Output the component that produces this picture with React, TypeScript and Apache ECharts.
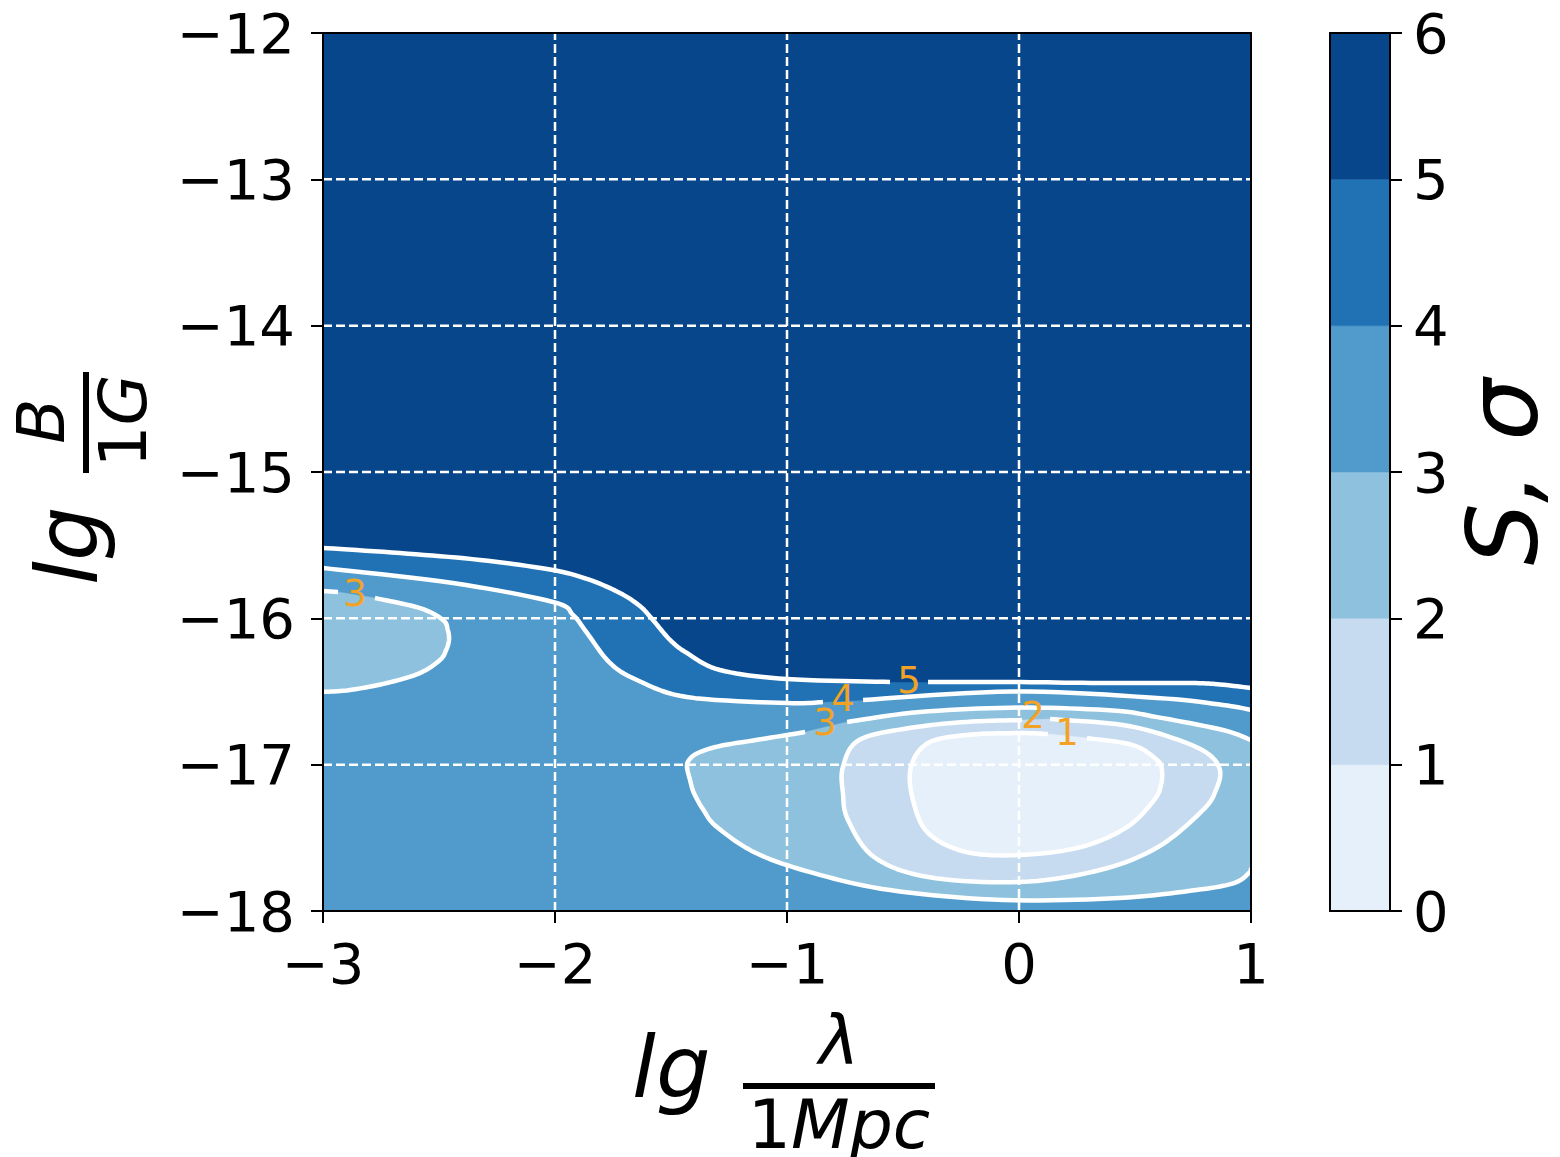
import React, { useEffect, useRef } from "react";
import * as echarts from "echarts";

type Pt = [number, number];

// axis ranges
const xMin = -3;
const xMax = 1;
const yMin = -18;
const yMax = -12;
const gridLinesX = [-2, -1, 0];
const gridLinesY = [-17, -16, -15, -14, -13];

// colour bar levels and band colours (Blues)
const colorbarLevels = [0, 1, 2, 3, 4, 5, 6];
const bandColors = ["#e6f0fa", "#c6dbef", "#8dc1dd", "#509bcb", "#2171b5", "#08468c"];

// contour lines (segments split at inline labels)
const level5Line: Pt[][] = [
  [[-3, -15.519], [-2.668, -15.554], [-2.323, -15.601], [-2.009, -15.67], [-1.849, -15.738], [-1.72, -15.827], [-1.634, -15.916], [-1.578, -16.011], [-1.504, -16.148], [-1.431, -16.237], [-1.289, -16.353], [-1.0, -16.415], [-0.556, -16.435]],
  [[-0.392, -16.435], [-0.026, -16.435], [0.349, -16.442], [0.737, -16.442], [0.866, -16.452], [1.0, -16.476]],
];
const level4Line: Pt[][] = [
  [[-3, -15.656], [-2.44, -15.759], [-2.009, -15.888], [-1.922, -15.977], [-1.862, -16.1], [-1.763, -16.305], [-1.647, -16.421], [-1.431, -16.538], [-1.0, -16.579], [-0.845, -16.572]],
  [[-0.672, -16.558], [-0.026, -16.5], [0.595, -16.544], [0.879, -16.592], [1.0, -16.626]],
];
const level3Left: Pt[][] = [
  [[-3, -15.813], [-2.935, -15.82]],
  [[-2.776, -15.861], [-2.582, -15.93], [-2.483, -16.011], [-2.462, -16.08], [-2.457, -16.148], [-2.47, -16.22], [-2.496, -16.285], [-2.582, -16.374], [-2.724, -16.442], [-2.884, -16.49], [-3, -16.503]],
];
const level3Right: Pt[][] = [
  [[1.0, -16.832], [0.879, -16.763], [0.595, -16.675], [0.405, -16.63], [0.0, -16.61], [-0.427, -16.64], [-0.741, -16.708]],
  [[-0.922, -16.777], [-1.134, -16.832], [-1.289, -16.872], [-1.384, -16.92], [-1.422, -16.968], [-1.431, -17.016], [-1.418, -17.105], [-1.401, -17.194], [-1.36, -17.31], [-1.302, -17.426], [-1.134, -17.604], [-0.888, -17.74], [-0.556, -17.857], [-0.065, -17.925], [0.431, -17.911], [0.763, -17.857], [0.927, -17.809], [0.991, -17.74], [1.0, -17.706]],
];
const level2Ring: Pt[][] = [
  [[0.134, -16.688], [0.448, -16.729], [0.664, -16.818], [0.81, -16.92], [0.866, -17.036], [0.849, -17.173], [0.793, -17.31], [0.599, -17.563], [0.349, -17.72], [0.004, -17.802], [-0.392, -17.768], [-0.625, -17.631], [-0.737, -17.378], [-0.759, -17.194], [-0.759, -17.016], [-0.69, -16.832], [-0.474, -16.75], [-0.228, -16.708], [0.013, -16.695]],
];
const level1Ring: Pt[][] = [
  [[0.293, -16.818], [0.491, -16.866], [0.595, -16.968], [0.616, -17.036], [0.612, -17.139], [0.582, -17.242], [0.466, -17.426], [0.267, -17.563], [0.004, -17.617], [-0.228, -17.597], [-0.392, -17.467], [-0.457, -17.242], [-0.466, -17.016], [-0.392, -16.852], [-0.228, -16.797], [0.004, -16.784], [0.125, -16.791]],
];

// inline contour labels
const labelText = ["5", "4", "3", "2", "1", "3"];
const labelX = [-0.474, -0.759, -0.836, 0.06, 0.207, -2.862];
const labelY = [-16.422, -16.545, -16.715, -16.661, -16.777, -15.827];

const FONT = '"DejaVu Sans", sans-serif';
const minus = (v: number) => String(v).replace("-", "\u2212");

// Catmull-Rom smoothing of an already projected (pixel) polyline, for drawing only
const smoothPx = (pts: number[][], n = 10): number[][] => {
  if (pts.length < 3) return pts;
  const out: number[][] = [];
  for (let i = 0; i < pts.length - 1; i++) {
    const p0 = pts[i - 1] || pts[i];
    const p1 = pts[i];
    const p2 = pts[i + 1];
    const p3 = pts[i + 2] || pts[i + 1];
    for (let k = 0; k < n; k++) {
      const s = k / n;
      const s2 = s * s;
      const s3 = s2 * s;
      const f = (a: number, b: number, c: number, d: number) =>
        0.5 * (2 * b + (-a + c) * s + (2 * a - 5 * b + 4 * c - d) * s2 + (-a + 3 * b - 3 * c + d) * s3);
      out.push([f(p0[0], p1[0], p2[0], p3[0]), f(p0[1], p1[1], p2[1], p3[1])]);
    }
  }
  out.push(pts[pts.length - 1]);
  return out;
};

export default function App() {
  const ref = useRef<HTMLDivElement>(null);
  useEffect(() => {
    const chart = echarts.init(ref.current!, null, { renderer: "svg" });
    const lines = [level5Line, level4Line, level3Left, level3Right, level2Ring, level1Ring];

    const lineAxis = (gridIndex: number, position: string, extra: any = {}) => ({
      gridIndex,
      type: "value",
      position,
      z: 10,
      axisLine: { show: true, onZero: false, lineStyle: { color: "#000", width: 2 } },
      axisTick: { show: false },
      axisLabel: { show: false },
      splitLine: { show: false },
      ...extra,
    });
    const tickLabel = (margin: number) => ({
      show: true,
      fontSize: 56,
      color: "#000",
      fontFamily: FONT,
      margin,
      formatter: (v: number) => minus(v),
    });
    const tickStyle = { show: true, inside: false, length: 12, lineStyle: { color: "#000", width: 2 } };

    chart.setOption({
      animation: false,
      backgroundColor: "#fff",
      grid: [
        { left: 323, top: 33, width: 928, height: 878, outerBoundsMode: "none" },
        { left: 1330, top: 33, width: 60, height: 878, outerBoundsMode: "none" },
      ],
      xAxis: [
        lineAxis(0, "bottom", { min: xMin, max: xMax, interval: 1, axisTick: tickStyle, axisLabel: tickLabel(24) }),
        lineAxis(0, "top", { min: xMin, max: xMax }),
        lineAxis(1, "bottom", { min: 0, max: 1 }),
        lineAxis(1, "top", { min: 0, max: 1 }),
      ],
      yAxis: [
        lineAxis(0, "left", { min: yMin, max: yMax, interval: 1, axisTick: tickStyle, axisLabel: tickLabel(28) }),
        lineAxis(0, "right", { min: yMin, max: yMax }),
        lineAxis(1, "right", { min: 0, max: 6, interval: 1, axisTick: tickStyle, axisLabel: tickLabel(23) }),
        lineAxis(1, "left", { min: 0, max: 6 }),
      ],
      series: [
        {
          type: "custom",
          name: "contours",
          xAxisIndex: 0,
          yAxisIndex: 0,
          z: 2,
          clip: true,
          data: [[-1, -15]],
          renderItem: (_p: any, api: any) => {
            const proj = (segs: Pt[][]) => segs.map((seg) => smoothPx(seg.map((p) => api.coord(p))));
            const flatPx = (segs: number[][][]) => segs.reduce((acc, s) => acc.concat(s), [] as number[][]);
            const tl = api.coord([xMin, yMax]);
            const tr = api.coord([xMax, yMax]);
            const br = api.coord([xMax, yMin]);
            const bl = api.coord([xMin, yMin]);
            const px = lines.map(proj);
            const fills = [
              { pts: [tl, tr, br, bl], color: bandColors[3] },
              { pts: [tl, ...flatPx(px[1]), tr], color: bandColors[4] },
              { pts: [tl, ...flatPx(px[0]), tr], color: bandColors[5] },
              { pts: flatPx(px[2]), color: bandColors[2] },
              { pts: flatPx(px[3]), color: bandColors[2] },
              { pts: flatPx(px[4]), color: bandColors[1] },
              { pts: flatPx(px[5]), color: bandColors[0] },
            ];
            const children: any[] = [];
            fills.forEach((f) =>
              children.push({
                type: "polygon",
                shape: { points: f.pts },
                style: { fill: f.color, stroke: f.color, lineWidth: 0.5 },
              })
            );
            px.forEach((segs) =>
              segs.forEach((seg) =>
                children.push({
                  type: "polyline",
                  shape: { points: seg },
                  style: { stroke: "#fff", lineWidth: 4.5, fill: "none", lineJoin: "round" },
                })
              )
            );
            return { type: "group", children };
          },
        },
        {
          type: "custom",
          name: "grid",
          xAxisIndex: 0,
          yAxisIndex: 0,
          z: 3,
          data: [[-1, -15]],
          renderItem: (_p: any, api: any) => {
            const children: any[] = [];
            const st = { stroke: "#fff", lineWidth: 2.5, lineDash: [9, 4] };
            gridLinesX.forEach((x) => {
              const a = api.coord([x, yMin]);
              const b = api.coord([x, yMax]);
              children.push({ type: "line", shape: { x1: a[0], y1: a[1], x2: b[0], y2: b[1] }, style: st });
            });
            gridLinesY.forEach((y) => {
              const a = api.coord([xMin, y]);
              const b = api.coord([xMax, y]);
              children.push({ type: "line", shape: { x1: a[0], y1: a[1], x2: b[0], y2: b[1] }, style: st });
            });
            return { type: "group", children };
          },
        },
        {
          type: "custom",
          name: "labels",
          xAxisIndex: 0,
          yAxisIndex: 0,
          z: 4,
          data: labelText.map((_t, i) => [labelX[i], labelY[i]]),
          renderItem: (params: any, api: any) => {
            const c = api.coord([api.value(0), api.value(1)]);
            return {
              type: "text",
              x: c[0],
              y: c[1],
              style: {
                text: labelText[params.dataIndex],
                fill: "#f2a225",
                fontSize: 37,
                fontFamily: FONT,
                align: "center",
                verticalAlign: "middle",
              },
            };
          },
        },
        {
          type: "custom",
          name: "colorbar",
          xAxisIndex: 2,
          yAxisIndex: 2,
          z: 2,
          encode: { x: 0, y: [1, 2] },
          data: bandColors.map((_c, i) => [0.5, colorbarLevels[i], colorbarLevels[i + 1]]),
          renderItem: (params: any, api: any) => {
            const p0 = api.coord([0, api.value(2)]);
            const p1 = api.coord([1, api.value(1)]);
            return {
              type: "rect",
              shape: { x: p0[0], y: p0[1], width: p1[0] - p0[0], height: p1[1] - p0[1] },
              style: { fill: bandColors[params.dataIndex], stroke: bandColors[params.dataIndex], lineWidth: 0.5 },
            };
          },
        },
      ],
      graphic: [
        {
          type: "group",
          x: 632,
          y: 1032,
          children: [
            { type: "text", x: 0, y: 35, style: { text: "lg", fontSize: 86, fontStyle: "italic", fontFamily: FONT, fill: "#000", align: "left", verticalAlign: "middle" } },
            { type: "rect", shape: { x: 111, y: 51, width: 192, height: 6 }, style: { fill: "#000" } },
            { type: "text", x: 207, y: 8, style: { text: "λ", fontSize: 68, fontStyle: "italic", fontFamily: FONT, fill: "#000", align: "center", verticalAlign: "middle" } },
            {
              type: "text",
              x: 207,
              y: 92,
              style: {
                text: "{u|1}{i|Mpc}",
                align: "center",
                verticalAlign: "middle",
                rich: {
                  u: { fontSize: 68, fontFamily: FONT, fill: "#000" },
                  i: { fontSize: 68, fontStyle: "italic", fontFamily: FONT, fill: "#000" },
                },
              },
            },
          ],
        },
        {
          type: "group",
          x: 32,
          y: 585,
          rotation: Math.PI / 2,
          children: [
            { type: "text", x: 0, y: 35, style: { text: "lg", fontSize: 86, fontStyle: "italic", fontFamily: FONT, fill: "#000", align: "left", verticalAlign: "middle" } },
            { type: "rect", shape: { x: 112, y: 51, width: 101, height: 6 }, style: { fill: "#000" } },
            { type: "text", x: 164, y: 9, style: { text: "B", fontSize: 66, fontStyle: "italic", fontFamily: FONT, fill: "#000", align: "center", verticalAlign: "middle" } },
            {
              type: "text",
              x: 164,
              y: 91,
              style: {
                text: "{u|1}{i|G}",
                align: "center",
                verticalAlign: "middle",
                rich: {
                  u: { fontSize: 66, fontFamily: FONT, fill: "#000" },
                  i: { fontSize: 66, fontStyle: "italic", fontFamily: FONT, fill: "#000" },
                },
              },
            },
          ],
        },
        {
          type: "text",
          x: 1503,
          y: 472,
          rotation: Math.PI / 2,
          style: { text: "S, σ", fontSize: 98, fontStyle: "italic", fontFamily: FONT, fill: "#000", align: "center", verticalAlign: "middle" },
        },
      ],
    });
    return () => chart.dispose();
  }, []);
  return <div ref={ref} style={{ position: "absolute", left: 0, top: 0, width: 1560, height: 1157 }} />;
}
